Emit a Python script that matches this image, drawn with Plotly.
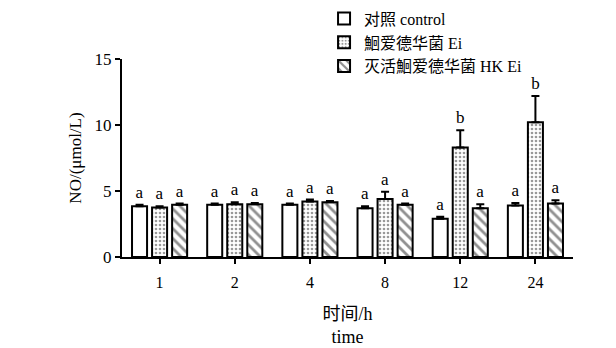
import plotly.graph_objects as go

categories = ["1", "2", "4", "8", "12", "24"]
control = [3.85, 3.95, 3.95, 3.7, 2.9, 3.9]
control_err = [0.1, 0.1, 0.1, 0.15, 0.15, 0.2]
ei = [3.75, 4.0, 4.2, 4.4, 8.3, 10.2]
ei_err = [0.1, 0.15, 0.15, 0.55, 1.3, 2.0]
hk = [3.95, 4.0, 4.15, 3.95, 3.7, 4.05]
hk_err = [0.1, 0.1, 0.1, 0.1, 0.3, 0.25]
letters_control = ["a", "a", "a", "a", "a", "a"]
letters_ei = ["a", "a", "a", "a", "b", "b"]
letters_hk = ["a", "a", "a", "a", "a", "a"]

FONT = "Liberation Serif, Times New Roman, Noto Sans CJK SC, serif"

fig = go.Figure()

series = [
    ("对照 control", control, control_err, letters_control, dict(fillmode="replace", shape="", bgcolor="white")),
    ("鮰爱德华菌 Ei", ei, ei_err, letters_ei, dict(shape=".", fgcolor="#333", bgcolor="white", size=4, solidity=0.35)),
    ("灭活鮰爱德华菌 HK Ei", hk, hk_err, letters_hk, dict(shape="\\", fgcolor="#222", bgcolor="white", size=7, solidity=0.4)),
]

for i, (name, vals, errs, letters, pat) in enumerate(series):
    fig.add_trace(go.Bar(
        x=categories, y=vals, name=name, offsetgroup=str(i),
        marker=dict(color="white", line=dict(color="black", width=2), pattern=pat),
        error_y=dict(type="data", array=errs, arrayminus=[0] * len(errs), symmetric=False,
                     color="black", thickness=2, width=4),
    ))

# significance letters placed above each error bar, aligned with the bars
for i, (name, vals, errs, letters, pat) in enumerate(series):
    fig.add_trace(go.Bar(
        x=categories, y=[v + e for v, e in zip(vals, errs)], offsetgroup=str(i),
        marker=dict(color="rgba(0,0,0,0)", line=dict(width=0)),
        text=letters, textposition="outside", textfont=dict(family=FONT, size=17, color="black"),
        cliponaxis=False, showlegend=False, hoverinfo="skip", base=0,
    ))

fig.update_layout(
    width=608, height=340,
    margin=dict(l=114, r=43, t=51, b=91, autoexpand=False),
    paper_bgcolor="white", plot_bgcolor="white",
    barmode="group", bargap=0.2, bargroupgap=0.25,
    font=dict(family=FONT, size=16, color="black"),
    showlegend=True,
    legend=dict(x=0.448, y=1.29, xanchor="left", yanchor="top",
                font=dict(family=FONT, size=16), tracegroupgap=0,
                itemwidth=30, bgcolor="rgba(0,0,0,0)"),
    uniformtext=dict(mode="show", minsize=17),
)
fig.update_xaxes(
    type="category", range=[-0.5, 5.5], showline=True, linecolor="black", linewidth=2,
    ticks="outside", ticklen=5, tickwidth=2, tickcolor="black", ticklabelstandoff=5,
    tickfont=dict(family=FONT, size=16),
    title=dict(text="时间/h<br>time", font=dict(family=FONT, size=18), standoff=17),
)
fig.update_yaxes(
    range=[0, 15], tickvals=[0, 5, 10, 15], showline=True, linecolor="black", linewidth=2,
    ticks="outside", ticklen=5, tickwidth=2, tickcolor="black", showgrid=False, zeroline=False,
    tickfont=dict(family=FONT, size=17),
    title=dict(text="NO/(μmol/L)", font=dict(family=FONT, size=17), standoff=9),
)

fig.write_html("out.html")
